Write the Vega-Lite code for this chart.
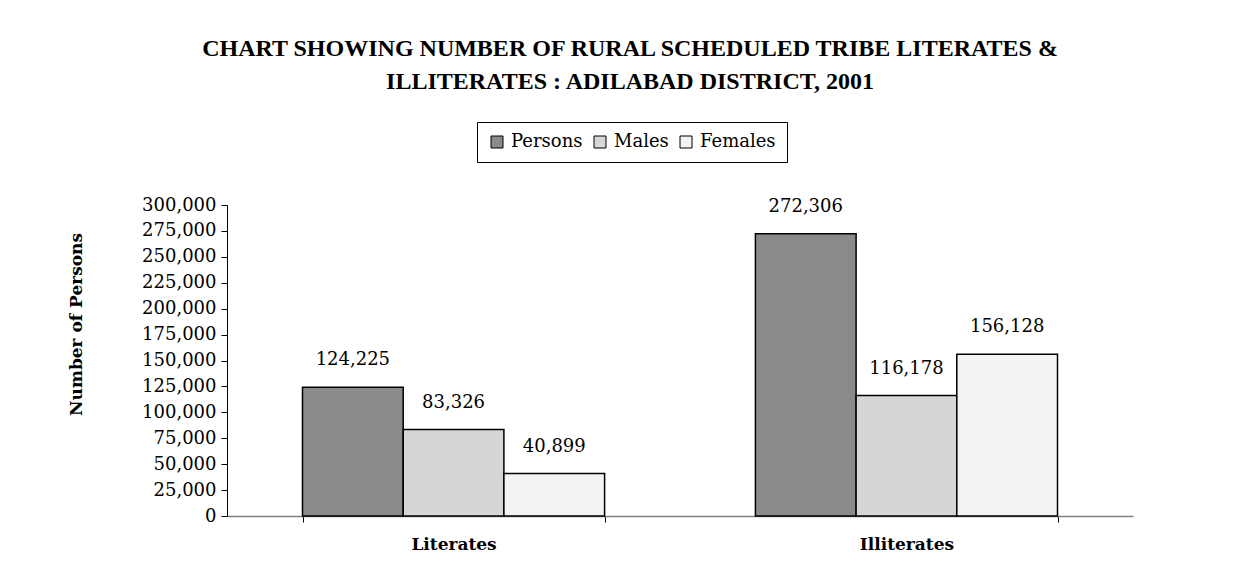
{
  "$schema": "https://vega.github.io/schema/vega-lite/v6.json",
  "width": 906,
  "height": 311,
  "autosize": "none",
  "padding": {"left": 227, "top": 205, "right": 103, "bottom": 63},
  "background": "white",
  "config": {
    "font": "DejaVu Serif",
    "view": {"stroke": null}
  },
  "title": {
    "text": ["CHART SHOWING NUMBER OF RURAL SCHEDULED TRIBE LITERATES &", "ILLITERATES : ADILABAD DISTRICT, 2001"],
    "font": "Liberation Serif",
    "fontSize": 24,
    "fontWeight": "bold",
    "color": "black",
    "anchor": "middle",
    "frame": "group",
    "dx": -50,
    "offset": 28,
    "lineHeight": 33
  },
  "data": {
    "values": [
      {"Category": "Literates", "Group": "Persons", "Value": 124225},
      {"Category": "Literates", "Group": "Males", "Value": 83326},
      {"Category": "Literates", "Group": "Females", "Value": 40899},
      {"Category": "Illiterates", "Group": "Persons", "Value": 272306},
      {"Category": "Illiterates", "Group": "Males", "Value": 116178},
      {"Category": "Illiterates", "Group": "Females", "Value": 156128}
    ]
  },
  "encoding": {
    "x": {
      "field": "Category",
      "type": "nominal",
      "sort": ["Literates", "Illiterates"],
      "scale": {"paddingInner": 0.333, "paddingOuter": 0.1667},
      "axis": {
        "title": null,
        "labelAngle": 0,
        "labelFont": "DejaVu Serif",
        "labelFontSize": 17,
        "labelFontWeight": "bold",
        "labelColor": "black",
        "labelPadding": 14,
        "tickBand": "extent",
        "tickSize": 6,
        "tickColor": "black",
        "domainColor": "#808080",
        "domainWidth": 1.5
      }
    },
    "xOffset": {"field": "Group", "type": "nominal", "sort": ["Persons", "Males", "Females"]},
    "y": {
      "field": "Value",
      "type": "quantitative",
      "scale": {"domain": [0, 300000], "nice": false},
      "axis": {
        "values": [0, 25000, 50000, 75000, 100000, 125000, 150000, 175000, 200000, 225000, 250000, 275000, 300000],
        "format": ",d",
        "grid": false,
        "labelFont": "DejaVu Serif",
        "labelFontSize": 18,
        "labelColor": "black",
        "labelPadding": 5,
        "tickSize": 6,
        "tickColor": "black",
        "domainColor": "black",
        "title": "Number of Persons",
        "titleFont": "DejaVu Serif",
        "titleFontSize": 17,
        "titleFontWeight": "bold",
        "titleColor": "black",
        "titleX": -151,
        "titleY": 119,
        "titleAlign": "center",
        "titleBaseline": "middle",
        "titleAngle": -90
      }
    }
  },
  "layer": [
    {
      "mark": {"type": "bar", "stroke": "black", "strokeWidth": 1.5},
      "encoding": {
        "fill": {
          "field": "Group",
          "type": "nominal",
          "sort": ["Persons", "Males", "Females"],
          "scale": {"domain": ["Persons", "Males", "Females"], "range": ["#8a8a8a", "#d6d6d6", "#f3f3f3"]},
          "legend": {
            "title": null,
            "orient": "none",
            "legendX": 250,
            "legendY": -83,
            "direction": "horizontal",
            "strokeColor": "black",
            "padding": 11,
            "symbolType": "square",
            "symbolSize": 144,
            "symbolStrokeColor": "black",
            "symbolStrokeWidth": 1,
            "labelFont": "DejaVu Serif",
            "labelFontSize": 18,
            "labelColor": "black",
            "labelOffset": 5,
            "columnPadding": 8
          }
        }
      }
    },
    {
      "mark": {"type": "text", "dy": -27, "baseline": "middle", "font": "DejaVu Serif", "fontSize": 18, "color": "black"},
      "encoding": {"text": {"field": "Value", "type": "quantitative", "format": ","}}
    }
  ]
}
